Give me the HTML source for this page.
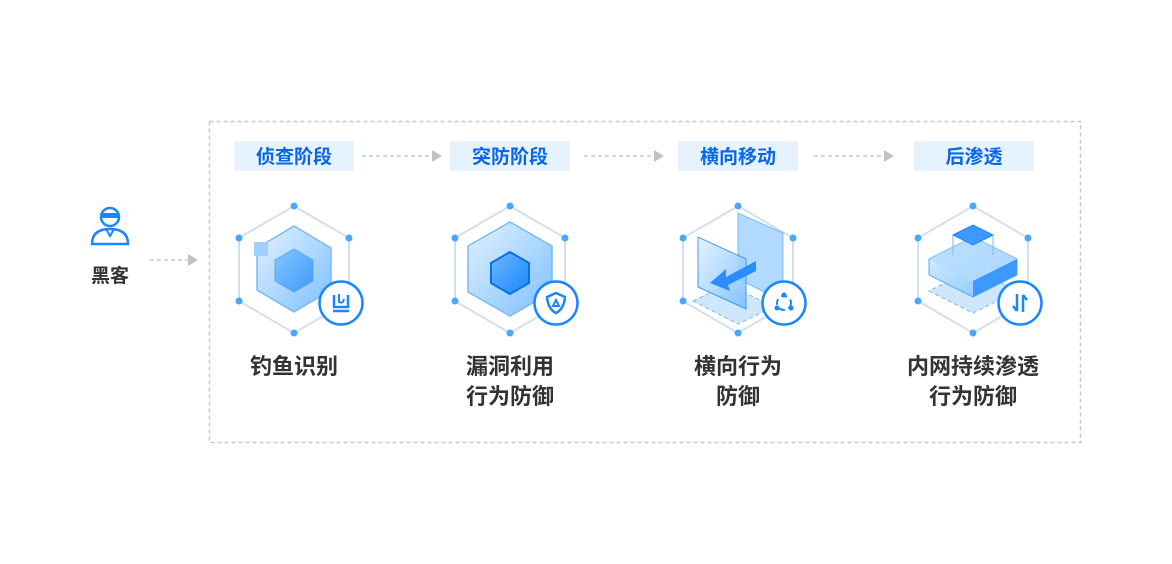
<!DOCTYPE html>
<html><head><meta charset="utf-8"><style>
html,body{margin:0;padding:0;background:#fff}
body{width:1172px;height:564px;position:relative;overflow:hidden;font-family:"Liberation Sans","Noto Sans CJK SC",sans-serif}
.stage{position:absolute;top:141px;height:30px;width:120px;background:#e6f3ff;color:#0a66e8;font-size:19px;font-weight:bold;text-align:center;line-height:33px}
.lbl{position:absolute;width:200px;text-align:center;color:#333;font-size:22px;font-weight:600;line-height:30px;top:352px}
</style></head><body>
<svg width="1172" height="564" style="position:absolute;left:0;top:0">
<defs>
<linearGradient id="g1" x1="0" y1="0" x2="1" y2="1"><stop offset="0" stop-color="#e3f1ff"/><stop offset="1" stop-color="#7cc0ff"/></linearGradient>
<linearGradient id="g2" x1="0" y1="0" x2="1" y2="1"><stop offset="0" stop-color="#6db8ff"/><stop offset="1" stop-color="#1a86ff"/></linearGradient>
<g id="hex">
<polygon points="0,-63 55,-31 55,32 0,64 -55,32 -55,-31" fill="none" stroke="#d6deea" stroke-width="2"/>
<g fill="#4aa6ff"><circle cx="0" cy="-63" r="3.5"/><circle cx="55" cy="-31" r="3.5"/><circle cx="55" cy="32" r="3.5"/><circle cx="0" cy="64" r="3.5"/><circle cx="-55" cy="32" r="3.5"/><circle cx="-55" cy="-31" r="3.5"/></g>
</g>
<g id="badge"><circle r="21.5" fill="#fff" stroke="#1a86ff" stroke-width="2.5"/></g>
</defs>
<rect x="209.5" y="121.5" width="871" height="321" fill="none" stroke="#c8c8c8" stroke-width="1.5" stroke-dasharray="4,3"/>
<g stroke="#c8c8c8" stroke-width="1.5" stroke-dasharray="4,3"><line x1="362" y1="156" x2="432" y2="156"/><line x1="584" y1="156" x2="654" y2="156"/><line x1="814" y1="156" x2="884" y2="156"/><line x1="150" y1="260" x2="188" y2="260"/></g>
<g fill="#c0c0c8"><polygon points="432,150 442,156 432,162"/><polygon points="654,150 664,156 654,162"/><polygon points="884,150 894,156 884,162"/><polygon points="188,254 198,260 188,266"/></g>
<g fill="none" stroke="#1a86ff" stroke-width="2.5"><circle cx="110" cy="217" r="9"/><path d="M92 244 Q92 229 110 229 Q128 229 128 244 Z"/></g>
<rect x="101" y="213" width="18" height="5" rx="2" fill="#1a86ff"/>
<path d="M106 229 L110 236 L114 229" fill="none" stroke="#1a86ff" stroke-width="2"/>
<g transform="translate(294,269)"><use href="#hex"/>
<polygon points="0,-43 37,-21 37,21 0,43 -37,21 -37,-21" fill="url(#g1)" stroke="#7ab8f5" stroke-width="1.5"/>
<polygon points="0,-20 19,-9 19,12 0,23 -19,12 -19,-9" fill="url(#g2)" opacity=".7" stroke="#3d8fe8"/>
<rect x="-40" y="-27" width="14" height="14" fill="#9fd0ff"/>
</g>
<g transform="translate(510,269)"><use href="#hex"/>
<polygon points="0,-47 42,-23 42,23 0,47 -42,23 -42,-23" fill="url(#g1)" stroke="#7ab8f5" stroke-width="1.5"/>
<polygon points="0,-17 19,-6 19,14 0,25 -19,14 -19,-6" fill="url(#g2)" stroke="#0a70e0" stroke-width="2"/>
</g>
<g transform="translate(738,269)"><use href="#hex"/>
<polygon points="-45,32 0,55 35,38 -10,15" fill="#cfe6ff" stroke="#7ab8f5" stroke-dasharray="4,3"/>
<polygon points="0,-56 0,10 45,32 45,-36" fill="#9fd0ff" opacity=".8" stroke="#5aa8f5"/>
<polygon points="-40,-32 -40,18 8,40 8,-10" fill="url(#g1)" opacity=".9" stroke="#3d8fe8"/>
<polygon points="-28,14 -12,0 -12,8 18,-8 18,2 -10,16 -8,22" fill="#2b8cff"/>
</g>
<g transform="translate(973,269)"><use href="#hex"/>
<polygon points="-44,22 0,44 44,22 0,0" fill="#cfe6ff" stroke="#7ab8f5" stroke-dasharray="4,3"/>
<polygon points="-44,-10 0,-32 44,-10 44,6 0,28 -44,6" fill="url(#g1)" stroke="#5aa8f5"/>
<polygon points="-44,-10 0,12 44,-10 0,-32" fill="#b4dbff" opacity=".8"/>
<polygon points="0,12 44,-10 44,6 0,28" fill="#3d98ff"/>
<polygon points="-20,-34 0,-44 20,-34 0,-24" fill="#3d98ff" stroke="#1a86ff"/>
<line x1="-20" y1="-34" x2="-20" y2="-14" stroke="#7ab8f5"/><line x1="20" y1="-34" x2="20" y2="-14" stroke="#7ab8f5"/>
</g>
<g transform="translate(341,303)"><use href="#badge"/><path d="M-7 -8 V4 H7 V-8" fill="none" stroke="#1a86ff" stroke-width="2.5"/><line x1="-8" y1="8" x2="8" y2="8" stroke="#1a86ff" stroke-width="2.5"/><path d="M-2 -9 V-1 Q2 1 3 -4" fill="none" stroke="#1a86ff" stroke-width="2"/></g>
<g transform="translate(556,303)"><use href="#badge"/><path d="M-9 -6 L0 -10 L9 -6 Q8 6 0 10 Q-8 6 -9 -6Z" fill="none" stroke="#1a86ff" stroke-width="2.5"/><path d="M-3 3 L0 -3 L3 3Z" fill="none" stroke="#1a86ff" stroke-width="2"/></g>
<g transform="translate(784,303)"><use href="#badge"/><circle r="7" fill="none" stroke="#1a86ff" stroke-width="2" stroke-dasharray="6,4"/><circle cx="0" cy="-8" r="2.5" fill="#1a86ff"/><circle cx="-7" cy="5" r="2.5" fill="#1a86ff"/><circle cx="7" cy="5" r="2.5" fill="#1a86ff"/></g>
<g transform="translate(1020,303)"><use href="#badge"/><path d="M-3 -9 V8 M-7 3 L-3 8" fill="none" stroke="#1a86ff" stroke-width="2.5"/><path d="M3 9 V-8 M7 -3 L3 -8" fill="none" stroke="#1a86ff" stroke-width="2.5"/></g>
</svg>
<div class="stage" style="left:234px">侦查阶段</div>
<div class="stage" style="left:450px">突防阶段</div>
<div class="stage" style="left:678px">横向移动</div>
<div class="stage" style="left:914px">后渗透</div>
<div class="lbl" style="left:10px;top:262px;font-size:19px">黑客</div>
<div class="lbl" style="left:194px">钓鱼识别</div>
<div class="lbl" style="left:410px">漏洞利用<br>行为防御</div>
<div class="lbl" style="left:638px">横向行为<br>防御</div>
<div class="lbl" style="left:873px">内网持续渗透<br>行为防御</div>
</body></html>
